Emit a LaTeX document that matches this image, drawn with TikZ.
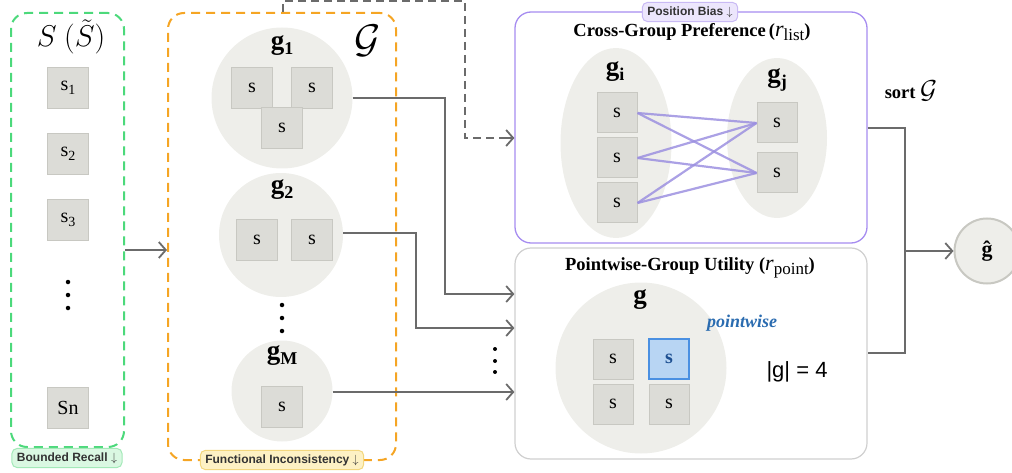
\RequirePackage{fix-cm}
\documentclass[tikz,border=0pt]{standalone}
\usepackage{fontspec}
\setmainfont{Liberation Serif}
\newfontfamily\tagfont{Liberation Sans}
\newfontfamily\arialf{Liberation Sans}
\usetikzlibrary{arrows.meta,shapes.geometric,calc}
\definecolor{grnD}{HTML}{4CD97B}
\definecolor{grnF}{HTML}{DAF8E2}
\definecolor{grnB}{HTML}{A3E9B8}
\definecolor{orgD}{HTML}{F5A524}
\definecolor{orgF}{HTML}{FDF1C4}
\definecolor{orgB}{HTML}{F3D77E}
\definecolor{purD}{HTML}{A68CF0}
\definecolor{purF}{HTML}{ECE6FC}
\definecolor{purB}{HTML}{C9BAF4}
\definecolor{purL}{HTML}{9C90E0}
\definecolor{grpF}{HTML}{EEEEEA}
\definecolor{boxF}{HTML}{DCDCD7}
\definecolor{boxB}{HTML}{C8C8C2}
\definecolor{hiF}{HTML}{B8D5F3}
\definecolor{hiB}{HTML}{4A90E2}
\definecolor{hiT}{HTML}{1D4F91}
\definecolor{ptw}{HTML}{2B6CB0}
\definecolor{lnC}{HTML}{6B6B6B}
\definecolor{pwB}{HTML}{CFCFCF}
\newcommand{\subsc}[1]{\raisebox{-0.4ex}{\fontsize{14}{14}\selectfont #1}}
\newcommand{\gsub}[1]{\raisebox{-0.35ex}{\fontsize{18}{18}\selectfont\bfseries #1}}
\newcommand{\rsub}[1]{{\mdseries\fontsize{22}{22}\selectfont\textit{r}\raisebox{-0.45ex}{\fontsize{17}{17}\selectfont #1}}}
\tikzset{
  sbox/.style={draw=boxB, fill=boxF, line width=1pt, minimum width=41pt, minimum height=41pt, inner sep=0pt, font=\fontsize{20}{20}\selectfont},
  hibox/.style={sbox, draw=hiB, fill=hiF, line width=1.5pt, text=hiT, font=\fontsize{20}{20}\selectfont\bfseries},
  grp/.style={circle, fill=grpF, inner sep=0pt},
  grpE/.style={ellipse, fill=grpF, inner sep=0pt},
  glabel/.style={font=\fontsize{27}{27}\selectfont\bfseries, inner sep=0pt},
  conn/.style={draw=lnC, line width=1.8pt},
  arr/.style={conn, -{Straight Barb[length=7pt,width=16pt]}},
  dashconn/.style={conn, dash pattern=on 8pt off 5pt},
  tagbox/.style={rounded corners=5pt, line width=1pt, inner xsep=5pt, inner ysep=4pt, font=\tagfont\fontsize{12}{12}\selectfont\bfseries, text=black!80},
  title/.style={font=\fontsize{18.5}{18.5}\selectfont\bfseries, inner sep=0pt},
  pline/.style={draw=purL, line width=2.2pt, opacity=0.85},
  vdot/.style={circle, fill=black, inner sep=0pt, minimum size=4.5pt},
}
\begin{document}
\begin{tikzpicture}[x=1pt,y=-1pt]
\useasboundingbox (0,0) rectangle (1012,473);

% ---- left set S
\node[draw=grnD, line width=2pt, dash pattern=on 9pt off 6pt, rounded corners=16pt,
      minimum width=113pt, minimum height=434pt] (Sbox) at (67.5,230) {};
\node[inner sep=0pt, font=\fontsize{30}{30}\selectfont] (Slab) at (71,37) {$S\ (\tilde{S})$};
\node[sbox] (s1) at (68,88) {s\subsc{1}};
\node[sbox] (s2) at (68,154) {s\subsc{2}};
\node[sbox] (s3) at (68,220) {s\subsc{3}};
\node[vdot] (sd1) at (68,282) {};
\node[vdot] (sd2) at (68,295) {};
\node[vdot] (sd3) at (68,308) {};
\node[sbox] (sn) at (68,408) {Sn};
\node[tagbox, draw=grnB, fill=grnF] (tagBR) at (67,458) {Bounded Recall $\downarrow$};

% ---- groups G
\node[draw=orgD, line width=2pt, dash pattern=on 9pt off 6pt, rounded corners=16pt,
      minimum width=228pt, minimum height=447pt] (Gbox) at (282,236.5) {};
\node[inner sep=0pt, font=\fontsize{40}{40}\selectfont] (Glab) at (368,41) {$\mathcal{G}$};

\node[grp, minimum size=141pt] (g1c) at (282,98) {};
\node[glabel] (g1l) at (282,46) {g\gsub{1}};
\node[sbox] (g1a) at (252,88) {s};
\node[sbox] (g1b) at (312,88) {s};
\node[sbox] (g1d) at (282,128) {s};

\node[grp, minimum size=124pt] (g2c) at (281,235) {};
\node[glabel] (g2l) at (282,190) {g\gsub{2}};
\node[sbox] (g2a) at (257,240) {s};
\node[sbox] (g2b) at (312,240) {s};

\node[vdot] (gd1) at (282,305) {};
\node[vdot] (gd2) at (282,318) {};
\node[vdot] (gd3) at (282,331) {};

\node[grp, minimum size=101pt] (gMc) at (282,391) {};
\node[glabel] (gMl) at (282,356) {g\gsub{M}};
\node[sbox] (gMa) at (282,407) {s};

\node[tagbox, draw=orgB, fill=orgF] (tagFI) at (282,460) {Functional Inconsistency $\downarrow$};

% ---- arrow S -> G
\draw[arr] (Sbox.east |- 0,250) -- (Gbox.west |- 0,250);

% ---- Cross-group preference box
\node[draw=purD, line width=1.3pt, rounded corners=16pt,
      minimum width=352pt, minimum height=231pt] (cg) at (691,127.5) {};
\node[title] (cgt) at (692,32) {Cross-Group Preference\,(\rsub{list})};
\node[tagbox, draw=purB, fill=purF] (tagPB) at (690,12) {Position Bias $\downarrow$};

\node[grpE, minimum width=111pt, minimum height=190pt] (gi) at (616,143) {};
\node[glabel] (gil) at (615,72) {g\gsub{i}};
\node[sbox, minimum width=40pt, minimum height=40pt] (gia) at (617,113) {s};
\node[sbox, minimum width=40pt, minimum height=40pt] (gib) at (617,158) {s};
\node[sbox, minimum width=40pt, minimum height=40pt] (gic) at (617,203) {s};

\node[grpE, minimum width=100pt, minimum height=160pt] (gj) at (777,138) {};
\node[glabel] (gjl) at (777,80) {g\gsub{j}};
\node[sbox, minimum width=40pt, minimum height=40pt] (gja) at (777,123) {s};
\node[sbox, minimum width=40pt, minimum height=40pt] (gjb) at (777,173) {s};

\foreach \a in {gia,gib,gic}{
  \foreach \b in {gja,gjb}{
    \draw[pline] (\a.east) -- (\b.west);
  }
}

% ---- Pointwise-group utility box
\node[draw=pwB, line width=1.2pt, rounded corners=16pt,
      minimum width=352pt, minimum height=211pt] (pw) at (691,353.5) {};
\node[title] (pwt) at (690,268) {Pointwise-Group Utility (\rsub{point})};
\node[grp, minimum size=171pt] (gc) at (641,368) {};
\node[glabel] (gl) at (640,300) {g};
\node[sbox, minimum width=40pt, minimum height=40pt] (ga) at (613,359) {s};
\node[hibox, minimum width=40pt, minimum height=40pt] (gb) at (669,359) {s};
\node[sbox, minimum width=40pt, minimum height=40pt] (gcc) at (613,404) {s};
\node[sbox, minimum width=40pt, minimum height=40pt] (gd) at (669,404) {s};
\node[inner sep=0pt, text=ptw, font=\fontsize{18}{18}\selectfont\bfseries\itshape] (ptwl) at (742,323) {pointwise};
\node[inner sep=0pt, font=\arialf\fontsize{22}{22}\selectfont] (card) at (797,372) {|g| = 4};

% ---- connectors groups -> boxes
\coordinate (dtop) at (283,1);
\coordinate (dcor) at (465,1);
\draw[dashconn] (Gbox.north -| dtop) -- (dtop) -- (dcor) |- (cg.west |- 0,138);
\draw[conn, -{Straight Barb[length=7pt,width=16pt]}] (cg.west |- 0,138) ++(-10,0) -- (cg.west |- 0,138);
\draw[arr] (g1c.east) -- (445,98) |- (pw.west |- 0,294);
\draw[arr] (g2c.east |- 0,233) -- (416,233) |- (pw.west |- 0,328);
\draw[arr] (gMc.east |- 0,392) -- (pw.west |- 0,392);
\node[vdot, minimum size=4pt] (pd1) at (495,349) {};
\node[vdot, minimum size=4pt] (pd2) at (495,361) {};
\node[vdot, minimum size=4pt] (pd3) at (495,372) {};

% ---- sort and output
\coordinate (jn) at (905,251);
\draw[conn] (cg.east |- 0,128) -| (jn) |- (pw.east |- 0,353);
\node[draw=boxB, line width=2pt, fill=grpF, circle, minimum size=65pt, inner sep=0pt,
      font=\fontsize{22}{22}\selectfont\bfseries] (ghat) at (987,251) {ĝ};
\draw[arr] (jn) -- (ghat.west);
\node[inner sep=0pt, font=\fontsize{18.5}{18.5}\selectfont\bfseries] (sortl) at (911,91) {sort {\fontsize{26}{26}\selectfont$\mathcal{G}$}};
\end{tikzpicture}
\end{document}
